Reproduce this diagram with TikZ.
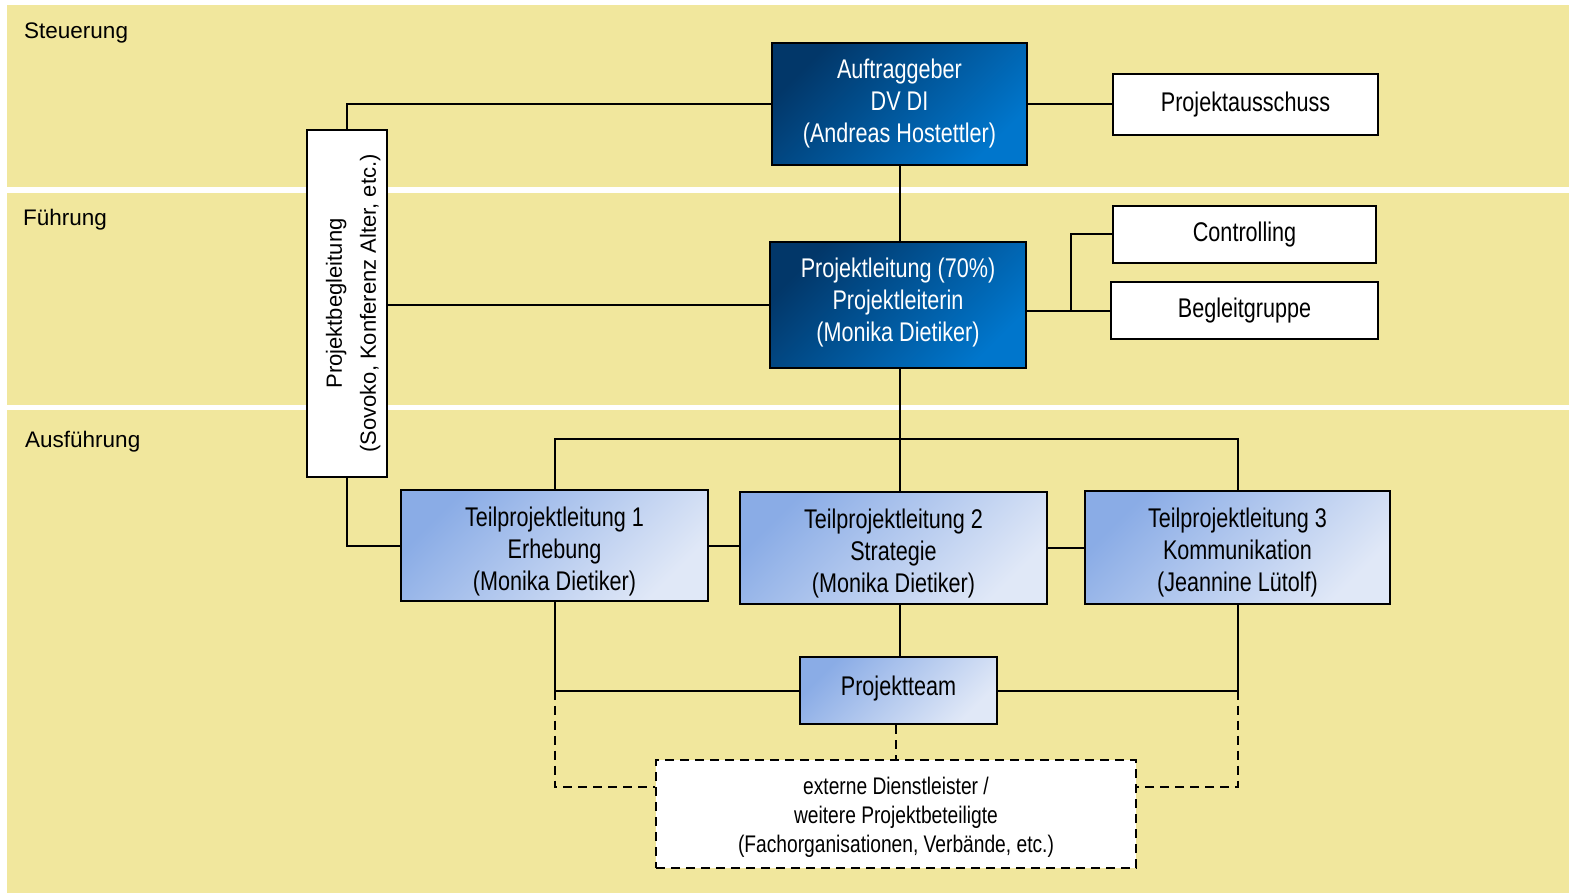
\documentclass[tikz,border=0pt]{standalone}
\usepackage{fontspec}
\setmainfont{Liberation Sans}
\newfontfamily\boxfont[FakeStretch=0.8]{Liberation Sans}
\usetikzlibrary{calc}
\definecolor{bandyellow}{RGB}{241,231,157}
\definecolor{darkA}{RGB}{2,55,105}
\definecolor{darkB}{RGB}{0,118,204}
\definecolor{lightA}{RGB}{138,172,230}
\definecolor{lightB}{RGB}{224,232,247}
\newcommand{\boxtext}[2]{\vbox{\kern#1\hbox{\begin{tabular}{@{}c@{}}#2\end{tabular}}}}
\tikzset{
  band/.style={fill=bandyellow, draw=none},
  lvl/.style={anchor=west, inner sep=0pt, font=\fontsize{22.5}{26}\selectfont},
  darkbox/.style={draw=black, line width=2.5pt, top color=darkA, bottom color=darkB, shading angle=45,
    text=white, inner sep=0pt, font=\boxfont\fontsize{27}{32}\selectfont},
  lightbox/.style={draw=black, line width=2.5pt, top color=lightA, bottom color=lightB, shading angle=45,
    text=black, inner sep=0pt, font=\boxfont\fontsize{27}{32}\selectfont},
  whitebox/.style={draw=black, line width=2.5pt, fill=white, text=black, inner sep=0pt,
    font=\boxfont\fontsize{27}{32}\selectfont},
  extbox/.style={draw=black, line width=2.2pt, fill=white, dash pattern=on 9pt off 6pt, text=black,
    inner sep=0pt, font=\boxfont\fontsize{24}{29}\selectfont},
  conn/.style={draw=black, line width=2pt},
  dconn/.style={draw=black, line width=2pt, dash pattern=on 9pt off 6pt},
}
\begin{document}
\begin{tikzpicture}[x=1pt, y=-1pt]
\useasboundingbox (0,0) rectangle (1569,896);
\fill[white] (0,0) rectangle (1569,896);
% bands
\fill[band] (7,5) rectangle (1569,187);
\fill[band] (7,193) rectangle (1569,405);
\fill[band] (7,410) rectangle (1569,893);
\node[lvl] (l1) at (24,33) {Steuerung};
\node[lvl] (l2) at (23,220) {Führung};
\node[lvl] (l3) at (25,442) {Ausführung};

% nodes
\node[darkbox, minimum width=255pt, minimum height=122pt] (auf) at (899.5,104) {\boxtext{0pt}{Auftraggeber\\DV DI\\(Andreas Hostettler)}};
\node[whitebox, minimum width=265pt, minimum height=61pt] (pa) at (1245.5,104.5) {Projektausschuss};
\node[darkbox, minimum width=256pt, minimum height=126pt] (pl) at (898,305) {\boxtext{-4pt}{Projektleitung (70\%)\\Projektleiterin\\(Monika Dietiker)}};
\node[whitebox, minimum width=263pt, minimum height=57pt] (ctrl) at (1244.5,234.5) {Controlling};
\node[whitebox, minimum width=267pt, minimum height=57pt] (bg) at (1244.5,310.5) {Begleitgruppe};
\node[draw=black, line width=2.5pt, fill=white, inner sep=0pt, minimum width=80pt, minimum height=347pt] (pb) at (347,303.5)
  {\rotatebox{90}{\fontsize{22}{34}\selectfont\vbox{\kern10pt\hbox{\begin{tabular}{@{}c@{}}Projektbegleitung\\(Sovoko, Konferenz Alter, etc.)\end{tabular}}}}};
\node[lightbox, minimum width=307pt, minimum height=111pt] (t1) at (554.5,545.5) {\boxtext{14pt}{Teilprojektleitung 1\\Erhebung\\(Monika Dietiker)}};
\node[lightbox, minimum width=307pt, minimum height=112pt] (t2) at (893.5,548) {\boxtext{12pt}{Teilprojektleitung 2\\Strategie\\(Monika Dietiker)}};
\node[lightbox, minimum width=305pt, minimum height=113pt] (t3) at (1237.5,547.5) {\boxtext{12pt}{Teilprojektleitung 3\\Kommunikation\\(Jeannine Lütolf)}};
\node[lightbox, minimum width=197pt, minimum height=67pt] (pt) at (898.5,690.5) {\boxtext{-2pt}{Projektteam}};
\node[extbox, minimum width=480pt, minimum height=108pt] (ext) at (896,814) {\boxtext{8pt}{externe Dienstleister /\\weitere Projektbeteiligte\\(Fachorganisationen, Verbände, etc.)}};

% helper coordinates
\coordinate (jt) at ($(pl.south)+(2,70)$);
\coordinate (jc) at ($(bg.west)+(-39,0)$);
\coordinate (el) at ($(ext.west)+(0,-27)$);
\coordinate (er) at ($(ext.east)+(0,-27)$);

% connectors
\draw[conn] (auf.west) -| (pb.north);
\draw[conn] (auf.east) -- (auf.east -| pa.west);
\draw[conn] (auf.south) -- (auf.south |- pl.north);
\draw[conn] (pl.west) -- (pl.west -| pb.east);
\draw[conn] (bg.west) -- (bg.west -| pl.east);
\draw[conn] (ctrl.west) -| (jc);
\draw[conn] (pl.south -| jt) -- (jt);
\draw[conn] (t1.north) |- (jt) -| (t3.north);
\draw[conn] (jt) -- (jt |- t2.north);
\draw[conn] (pb.south) |- (t1.west);
\draw[conn] (t1.east) -- (t1.east -| t2.west);
\draw[conn] (t2.east) -- (t2.east -| t3.west);
\draw[conn] (t1.south) |- (pt.west);
\draw[conn] (t3.south) |- (pt.east);
\draw[conn] (jt |- t2.south) -- (jt |- pt.north);
\draw[dconn] (t1.south |- pt.west) |- (el);
\draw[dconn] (t3.south |- pt.east) |- (er);
\draw[dconn] ([xshift=-3pt]pt.south) -- ([xshift=-3pt]pt.south |- ext.north);
\end{tikzpicture}
\end{document}
